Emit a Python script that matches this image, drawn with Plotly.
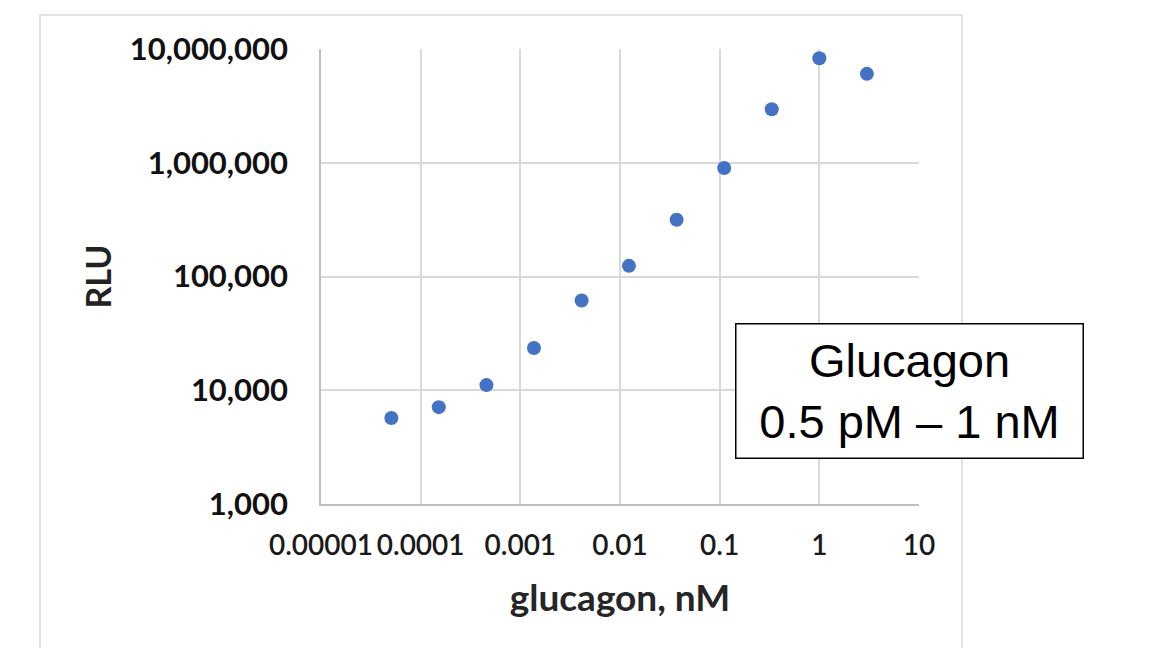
import plotly.graph_objects as go

glucagon_nM = [0.0000508, 0.000152, 0.000457, 0.00137, 0.00412, 0.0123, 0.037, 0.111, 0.333, 1.0, 3.0]
rlu = [5700, 7100, 11100, 23500, 61500, 124000, 315000, 900000, 2950000, 8300000, 6050000]

x_tickvals = [0.00001, 0.0001, 0.001, 0.01, 0.1, 1, 10]
x_ticktext = ["0.00001", "0.0001", "0.001", "0.01", "0.1", "1", "10"]
y_tickvals = [1000, 10000, 100000, 1000000, 10000000]
y_ticktext = ["1,000", "10,000", "100,000", "1,000,000", "10,000,000"]

W, H = 1159, 648
L, R, T, B = 321, 240, 49, 144
pw, ph = W - L - R, H - T - B

def px_x(p):
    return (p - L) / pw

def px_y(p):
    return (H - B - p) / ph

fig = go.Figure()
fig.add_trace(go.Scatter(
    x=glucagon_nM, y=rlu, mode="markers",
    marker=dict(color="#4472C4", size=14),
    showlegend=False,
))

grid = "#d9d9d9"
font_fam = "Lato, 'Open Sans', sans-serif"

fig.update_xaxes(
    type="log", range=[-5, 1],
    tickvals=x_tickvals, ticktext=x_ticktext, tickangle=0,
    showgrid=True, gridcolor=grid, gridwidth=1.5,
    showline=True, linecolor="#bfbfbf", linewidth=1.5,
    zeroline=False, ticks="", ticklabelstandoff=16,
    tickfont=dict(family=font_fam, size=28, color="#1a1a1a", weight=600),
    title=dict(text="glucagon, nM", standoff=25,
               font=dict(family=font_fam, size=37, color="#262626", weight="bold")),
)
fig.update_yaxes(
    type="log", range=[3, 7],
    tickvals=y_tickvals, ticktext=y_ticktext,
    showgrid=True, gridcolor=grid, gridwidth=1.5,
    showline=True, linecolor="#bfbfbf", linewidth=1.5,
    zeroline=False, ticks="", ticklabelstandoff=25,
    tickfont=dict(family=font_fam, size=31, color="#111111", weight="bold"),
    title=dict(text="RLU", standoff=8,
               font=dict(family=font_fam, size=34, color="#222222", weight="bold")),
)

# outer chart-area frame
fig.add_shape(type="rect", xref="paper", yref="paper",
              x0=px_x(40), x1=px_x(962), y0=px_y(15), y1=px_y(700),
              line=dict(color=grid, width=1.5), fillcolor="rgba(0,0,0,0)", layer="below")

fig.add_annotation(
    xref="paper", yref="paper",
    x=px_x(909.5), y=px_y(391), xanchor="center", yanchor="middle",
    text="Glucagon<br>0.5 pM – 1 nM", showarrow=False,
    font=dict(family="Liberation Sans, Arial, sans-serif", size=47, color="#000000"),
    bgcolor="#ffffff", bordercolor="#000000", borderwidth=1.5, borderpad=0,
    width=346, height=133, align="center", valign="middle",
)

fig.update_layout(
    width=W, height=H,
    margin=dict(l=L, r=R, t=T, b=B, autoexpand=False),
    paper_bgcolor="#ffffff", plot_bgcolor="#ffffff",
)

fig.write_html("out.html")
